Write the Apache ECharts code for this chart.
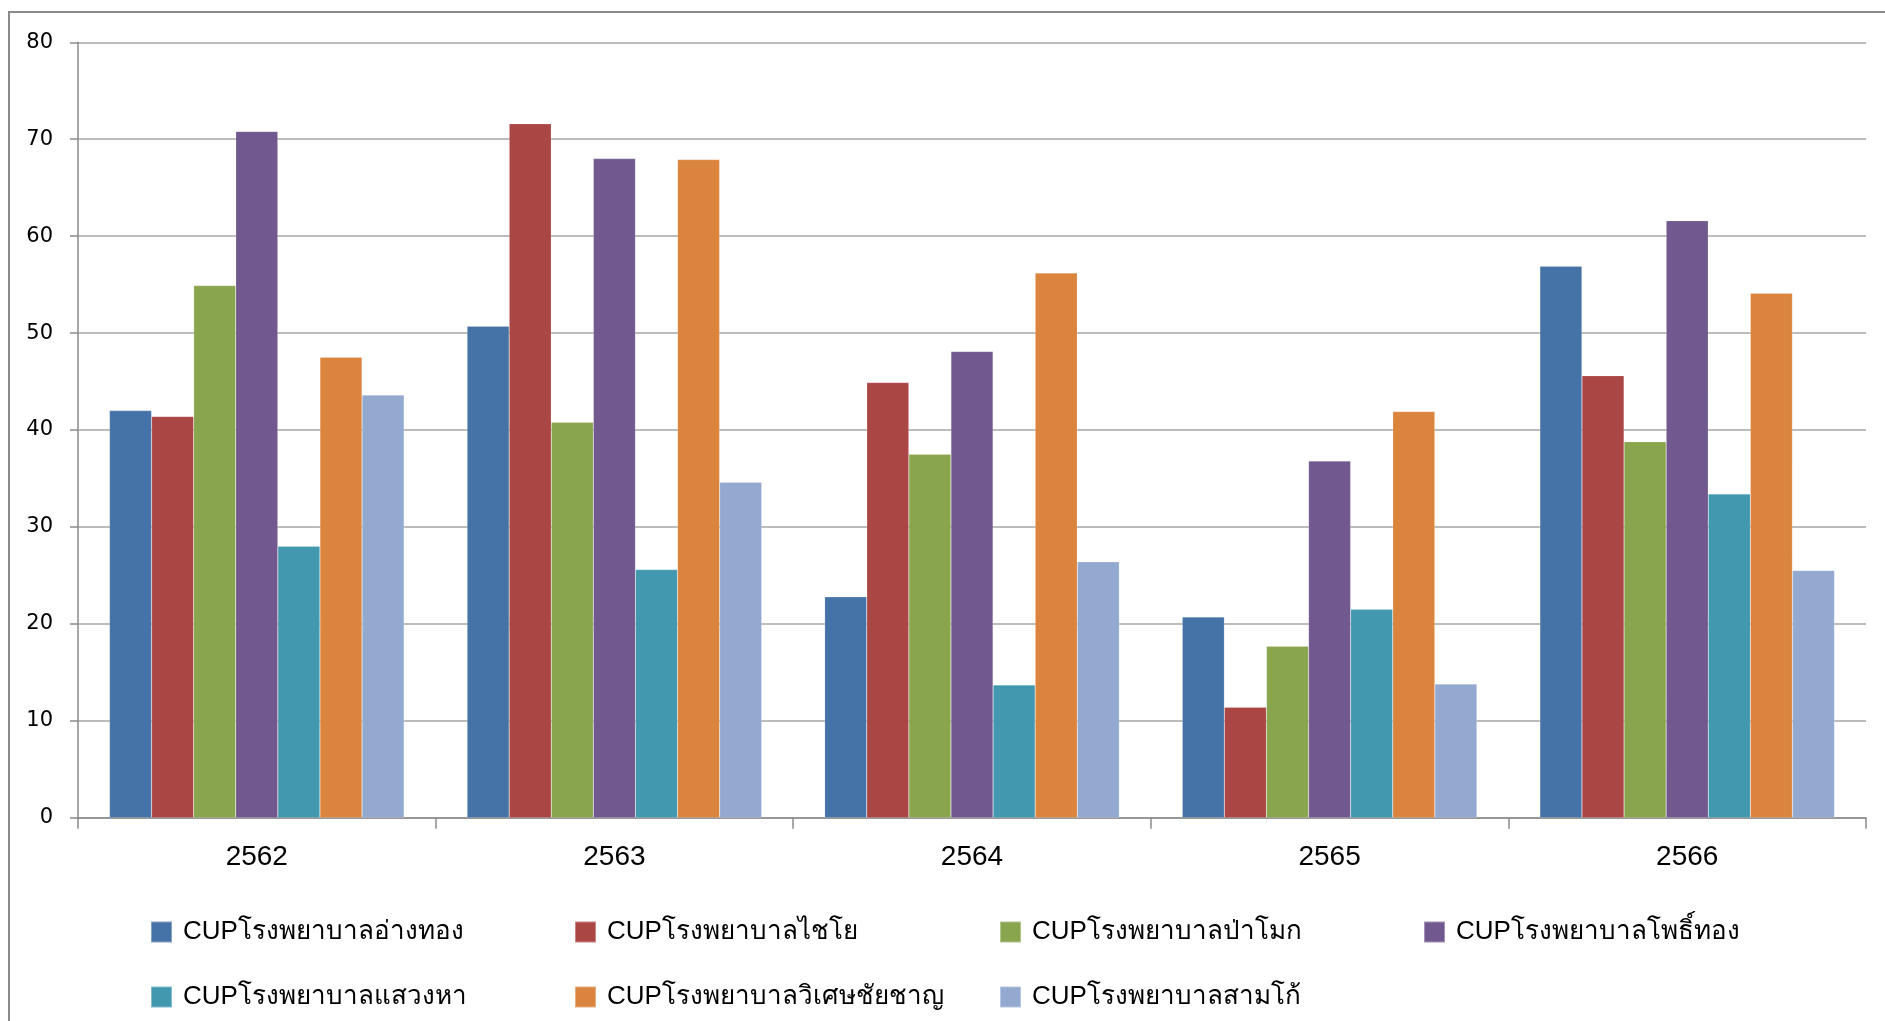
<!DOCTYPE html>
<html>
<head>
<meta charset="utf-8">
<script src="https://cdn.jsdelivr.net/npm/echarts@6/dist/echarts.min.js"></script>
<style>
html,body{margin:0;padding:0;background:#fff;}
#chart{width:1885px;height:1021px;}
</style>
</head>
<body>
<div id="chart"></div>
<script>
const categories = ['2562', '2563', '2564', '2565', '2566'];
const seriesNames = [
  'CUPโรงพยาบาลอ่างทอง',
  'CUPโรงพยาบาลไชโย',
  'CUPโรงพยาบาลป่าโมก',
  'CUPโรงพยาบาลโพธิ์ทอง',
  'CUPโรงพยาบาลแสวงหา',
  'CUPโรงพยาบาลวิเศษชัยชาญ',
  'CUPโรงพยาบาลสามโก้'
];
const angthong   = [42.0, 50.7, 22.8, 20.7, 56.9];
const chaiyo     = [41.4, 71.6, 44.9, 11.4, 45.6];
const pamok      = [54.9, 40.8, 37.5, 17.7, 38.8];
const phothong   = [70.8, 68.0, 48.1, 36.8, 61.6];
const sawaengha  = [28.0, 25.6, 13.7, 21.5, 33.4];
const wisetchai  = [47.5, 67.9, 56.2, 41.9, 54.1];
const samko      = [43.6, 34.6, 26.4, 13.8, 25.5];
const yTicks = [0, 10, 20, 30, 40, 50, 60, 70, 80];

const seriesValues = [angthong, chaiyo, pamok, phothong, sawaengha, wisetchai, samko];
const colors = ['#4572A7', '#AA4643', '#89A54E', '#71588F', '#4198AF', '#DB843D', '#93A9CF'];

const legendPos = [
  [150, 919], [574, 919], [999, 919], [1423, 919],
  [150, 984], [574, 984], [999, 984]
];
const FONT = '"Liberation Sans", "Noto Sans", sans-serif';

const chart = echarts.init(document.getElementById('chart'), null, {renderer: 'canvas'});
chart.setOption({
  animation: false,
  color: colors,
  graphic: [{
    type: 'rect',
    shape: {x: 9, y: 12, width: 2000, height: 1200},
    style: {fill: 'none', stroke: '#8a8a8a', lineWidth: 2},
    silent: true
  }],
  grid: {left: 78, right: 19, top: 42.3, bottom: 203.3, containLabel: false},
  legend: seriesNames.map((n, i) => ({
    data: [n],
    left: legendPos[i][0],
    top: legendPos[i][1],
    padding: 0,
    icon: 'rect',
    itemWidth: 21,
    itemHeight: 21,
    selectedMode: false,
    textStyle: {fontSize: 26, color: '#000', fontFamily: FONT, padding: [0, 0, 0, 6]}
  })),
  xAxis: {
    type: 'category',
    data: categories,
    axisLine: {show: true, lineStyle: {color: '#8a8a8a', width: 1.5}},
    axisTick: {show: true, length: 11, lineStyle: {color: '#8a8a8a', width: 1.5}},
    axisLabel: {fontSize: 28, color: '#000', fontFamily: FONT, margin: 26, lineHeight: 28}
  },
  yAxis: {
    type: 'value',
    min: yTicks[0],
    max: yTicks[yTicks.length - 1],
    interval: 10,
    axisLine: {show: true, lineStyle: {color: '#8a8a8a', width: 1.5}},
    axisTick: {show: true, length: 8, lineStyle: {color: '#8a8a8a', width: 1.5}},
    axisLabel: {fontSize: 21, color: '#000', fontFamily: '"DejaVu Sans", sans-serif', margin: 25},
    splitLine: {show: true, lineStyle: {color: '#a6a6a6', width: 1.5}}
  },
  series: seriesNames.map((n, i) => ({
    name: n,
    type: 'bar',
    data: seriesValues[i],
    barGap: '0%',
    barCategoryGap: '17.6%',
    itemStyle: {color: colors[i], borderColor: 'rgba(255,255,255,0.35)', borderWidth: 0.5}
  }))
});
</script>
</body>
</html>
